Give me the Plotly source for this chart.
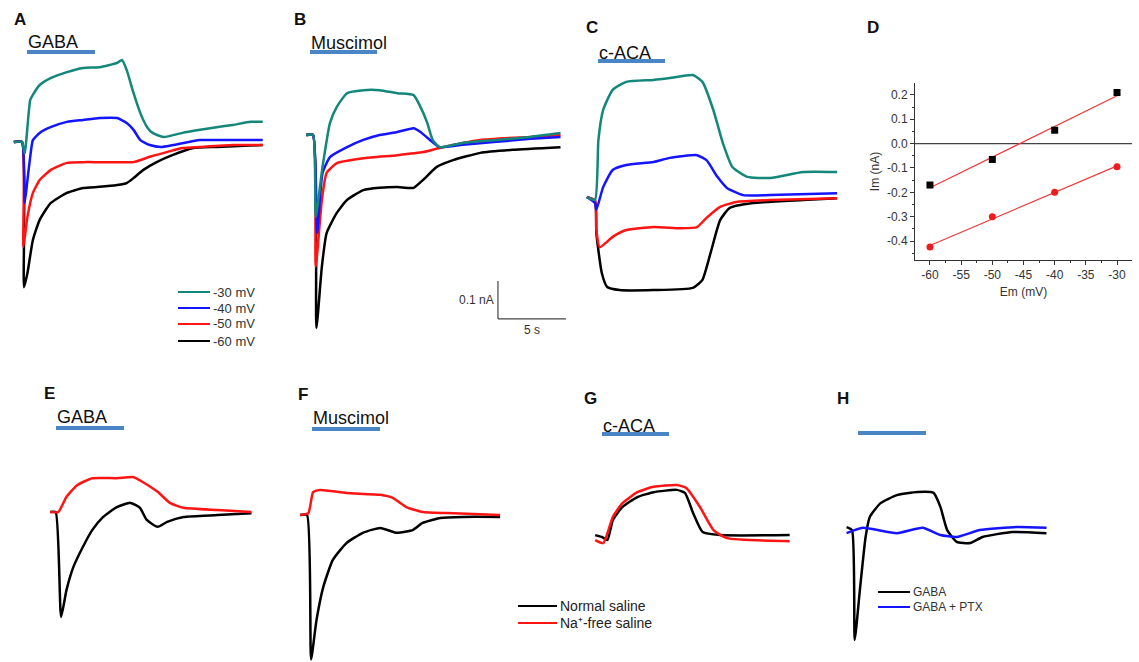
import numpy as np
import plotly.graph_objects as go

W, H = 1139, 662
SX, SY = 13.6, 380.0          # pixels per second, pixels per nA for current traces
FONT = "Arial, Liberation Sans, sans-serif"

TEAL, BLUE, RED, BLACK = "#13877a", "#1414ff", "#ff1414", "#000000"
BAR = "#4a86c6"

# ---------------- A: GABA at four holding potentials ----------------
A30_t = [-0.6, 0.0, 0.2, 0.6, 0.8, 1.3, 2.1, 3.3, 4.5, 5.7, 7.0, 7.35, 7.7, 8.2, 8.7, 9.2, 9.6, 10.4, 11.8, 13.1, 14.3, 15.5, 16.8, 17.7]
A30_i = [0.0, 0.0, -0.03, 0.11, 0.124, 0.15, 0.168, 0.184, 0.195, 0.197, 0.208, 0.216, 0.189, 0.129, 0.076, 0.039, 0.024, 0.013, 0.024, 0.032, 0.039, 0.045, 0.053, 0.053]
A40_t = [-0.6, 0.0, 0.2, 0.4, 0.6, 0.8, 1.3, 2.1, 3.3, 4.5, 5.7, 7.0, 7.7, 8.2, 8.7, 9.4, 10.2, 11.1, 13.1, 15.5, 17.7]
A40_i = [0.0, 0.0, -0.16, -0.1, -0.04, 0.005, 0.024, 0.039, 0.053, 0.058, 0.063, 0.063, 0.05, 0.032, 0.005, -0.008, -0.013, -0.008, 0.005, 0.005, 0.005]
A50_t = [-0.6, 0.0, 0.1, 0.4, 0.8, 1.3, 2.1, 3.3, 4.5, 5.7, 7.0, 8.2, 9.4, 10.7, 11.8, 13.1, 15.5, 17.7]
A50_i = [0.0, 0.0, -0.276, -0.197, -0.134, -0.1, -0.074, -0.055, -0.053, -0.053, -0.053, -0.053, -0.039, -0.026, -0.016, -0.013, -0.008, -0.008]
A60_t = [-0.6, 0.0, 0.15, 0.4, 0.8, 1.3, 2.1, 3.3, 4.5, 5.7, 7.0, 7.7, 8.2, 8.9, 9.9, 11.1, 12.6, 14.3, 17.7]
A60_i = [0.0, 0.0, -0.382, -0.345, -0.258, -0.205, -0.161, -0.134, -0.121, -0.118, -0.113, -0.108, -0.095, -0.074, -0.053, -0.034, -0.016, -0.013, -0.008]

# ---------------- B: muscimol ----------------
B30_t = [-0.5, 0.0, 0.2, 0.7, 1.25, 1.75, 2.5, 3.7, 4.9, 6.2, 7.4, 7.9, 8.4, 8.8, 9.3, 11.0, 13.5, 16.0, 18.2]
B30_i = [0.0, 0.0, -0.216, -0.084, 0.032, 0.074, 0.11, 0.118, 0.118, 0.11, 0.105, 0.074, 0.032, -0.013, -0.032, -0.021, -0.013, -0.005, 0.005]
B40_t = [-0.5, 0.0, 0.3, 0.7, 1.25, 2.5, 3.7, 4.9, 6.2, 7.4, 7.9, 8.6, 9.3, 11.0, 13.5, 16.0, 18.2]
B40_i = [0.0, 0.0, -0.258, -0.1, -0.058, -0.032, -0.013, 0.0, 0.008, 0.018, 0.008, -0.013, -0.032, -0.026, -0.018, -0.01, -0.005]
B50_t = [-0.5, 0.0, 0.2, 0.65, 1.0, 1.75, 3.7, 6.2, 8.1, 9.3, 12.3, 16.0, 18.2]
B50_i = [0.0, 0.0, -0.347, -0.171, -0.1, -0.074, -0.061, -0.053, -0.045, -0.034, -0.013, -0.005, 0.0]
B60_t = [-0.5, 0.0, 0.25, 0.65, 1.0, 1.75, 2.5, 3.7, 4.9, 6.2, 7.4, 8.1, 9.1, 10.3, 12.3, 14.7, 18.2]
B60_i = [0.0, 0.0, -0.508, -0.347, -0.258, -0.205, -0.171, -0.145, -0.139, -0.137, -0.139, -0.118, -0.084, -0.066, -0.047, -0.039, -0.032]

# ---------------- C: c-ACA ----------------
C30_t = [-0.6, 0.0, 0.25, 0.6, 1.3, 2.3, 4.3, 5.5, 7.2, 7.9, 8.7, 9.4, 10.1, 11.2, 12.9, 15.3, 17.8]
C30_i = [0.0, -0.008, 0.15, 0.229, 0.282, 0.303, 0.308, 0.313, 0.321, 0.303, 0.229, 0.142, 0.079, 0.053, 0.05, 0.066, 0.066]
C40_t = [-0.6, 0.0, 0.1, 0.6, 1.3, 2.3, 4.3, 5.5, 7.5, 8.2, 9.0, 9.7, 10.9, 12.9, 17.8]
C40_i = [0.0, -0.016, -0.034, 0.026, 0.071, 0.084, 0.092, 0.103, 0.11, 0.097, 0.053, 0.024, 0.005, 0.005, 0.01]
C50_t = [-0.6, 0.0, 0.1, 0.35, 1.3, 2.3, 4.3, 6.3, 7.5, 8.2, 9.2, 10.4, 12.9, 17.8]
C50_i = [0.0, -0.01, -0.087, -0.132, -0.105, -0.087, -0.079, -0.082, -0.079, -0.055, -0.026, -0.013, -0.008, -0.003]
C60_t = [-0.6, 0.0, 0.1, 0.5, 0.9, 1.8, 4.3, 7.2, 7.9, 8.5, 9.2, 9.9, 11.6, 15.3, 17.8]
C60_i = [0.0, -0.01, -0.095, -0.2, -0.237, -0.245, -0.245, -0.239, -0.218, -0.147, -0.061, -0.029, -0.016, -0.008, -0.003]

# ---------------- D: I-V relation ----------------
D_em = [-60, -50, -40, -30]
D_late = [-0.17, -0.065, 0.055, 0.21]      # squares
D_peak = [-0.425, -0.30, -0.20, -0.095]    # circles

# ---------------- E-G: normal vs Na+-free saline ----------------
E_nrm_t = [-0.5, -0.1, 0.3, 0.7, 1.2, 1.9, 2.6, 3.4, 4.4, 5.4, 6.1, 6.6, 7.4, 8.1, 9.3, 11.8, 14.3]
E_nrm_i = [0.0, 0.0, -0.276, -0.205, -0.145, -0.092, -0.047, -0.013, 0.013, 0.024, 0.011, -0.021, -0.039, -0.026, -0.013, -0.008, -0.003]
E_naf_t = [-0.5, 0.1, 0.7, 1.5, 2.6, 4.4, 5.6, 6.3, 7.4, 8.3, 9.3, 11.8, 14.3]
E_naf_i = [0.0, 0.0, 0.04, 0.071, 0.089, 0.089, 0.092, 0.079, 0.053, 0.024, 0.011, 0.005, 0.0]

F_nrm_t = [-0.5, 0.0, 0.3, 0.7, 1.2, 1.9, 2.9, 4.1, 5.4, 6.6, 7.8, 8.5, 9.8, 11.5, 14.2]
F_nrm_i = [0.0, 0.0, -0.38, -0.276, -0.189, -0.118, -0.074, -0.047, -0.034, -0.047, -0.039, -0.021, -0.008, -0.005, -0.005]
F_naf_t = [-0.5, 0.1, 0.45, 0.95, 2.9, 5.4, 6.3, 7.3, 8.5, 10.3, 14.2]
F_naf_i = [0.0, 0.005, 0.06, 0.066, 0.058, 0.053, 0.045, 0.021, 0.008, 0.005, 0.0]

G_nrm_t = [-0.5, 0.0, 0.4, 0.8, 1.5, 2.6, 3.8, 5.5, 6.1, 6.7, 7.4, 8.7, 13.8]
G_nrm_i = [0.005, 0.0, -0.008, 0.045, 0.079, 0.105, 0.118, 0.124, 0.116, 0.063, 0.013, 0.005, 0.005]
G_naf_t = [-0.5, 0.1, 0.8, 1.5, 2.6, 3.8, 5.5, 6.2, 7.2, 8.2, 9.2, 13.8]
G_naf_i = [-0.008, -0.016, 0.053, 0.089, 0.118, 0.132, 0.137, 0.129, 0.079, 0.018, -0.003, -0.011]

# ---------------- H: GABA with and without picrotoxin ----------------
H_gaba_t = [-0.4, 0.0, 0.2, 0.6, 1.0, 1.3, 2.1, 3.3, 4.8, 6.0, 6.5, 7.0, 7.7, 8.7, 9.6, 11.8, 14.3]
H_gaba_i = [0.013, 0.005, -0.284, -0.145, -0.013, 0.039, 0.076, 0.097, 0.105, 0.103, 0.066, 0.005, -0.026, -0.029, -0.013, 0.0, -0.003]
H_ptx_t = [-0.4, 0.8, 3.3, 5.2, 6.5, 7.7, 9.4, 12.1, 14.3]
H_ptx_i = [-0.003, 0.011, -0.003, 0.011, -0.008, -0.013, 0.005, 0.013, 0.011]


def px(x):
    return x / W


def py(y):
    return 1 - y / H


fig = go.Figure()
layout_axes = {}


def trace_panel(n, box, origin):
    """Hidden axes for a current-trace panel with a shared s / nA scale."""
    l, t, r, b = box
    ox, oy = origin
    s = "" if n == 1 else str(n)
    layout_axes["xaxis" + s] = dict(domain=[l / W, r / W], range=[(l - ox) / SX, (r - ox) / SX],
                                    visible=False, anchor="y" + s, fixedrange=True)
    layout_axes["yaxis" + s] = dict(domain=[1 - b / H, 1 - t / H], range=[(oy - b) / SY, (oy - t) / SY],
                                    visible=False, anchor="x" + s, fixedrange=True)
    return "x" + s, "y" + s


def add_trace(ax, t, i, color, width=2.5):
    fig.add_trace(go.Scatter(x=t, y=i, mode="lines", xaxis=ax[0], yaxis=ax[1],
                             line=dict(color=color, width=width, shape="spline", smoothing=0.5),
                             showlegend=False, hoverinfo="skip"))


axA = trace_panel(1, (5, 45, 285, 300), (22, 142))
axB = trace_panel(2, (290, 45, 580, 345), (313, 135))
axC = trace_panel(3, (575, 60, 855, 300), (595, 197))
axE = trace_panel(5, (35, 440, 285, 640), (57, 512))
axF = trace_panel(6, (285, 440, 540, 662), (307, 515))
axG = trace_panel(7, (575, 450, 820, 570), (602, 537))
axH = trace_panel(8, (835, 440, 1080, 660), (852, 532))

for ax, sets in [(axA, [(A60_t, A60_i, BLACK), (A50_t, A50_i, RED), (A40_t, A40_i, BLUE), (A30_t, A30_i, TEAL)]),
                 (axB, [(B60_t, B60_i, BLACK), (B50_t, B50_i, RED), (B40_t, B40_i, BLUE), (B30_t, B30_i, TEAL)]),
                 (axC, [(C60_t, C60_i, BLACK), (C50_t, C50_i, RED), (C40_t, C40_i, BLUE), (C30_t, C30_i, TEAL)]),
                 (axE, [(E_nrm_t, E_nrm_i, BLACK), (E_naf_t, E_naf_i, RED)]),
                 (axF, [(F_nrm_t, F_nrm_i, BLACK), (F_naf_t, F_naf_i, RED)]),
                 (axG, [(G_nrm_t, G_nrm_i, BLACK), (G_naf_t, G_naf_i, RED)]),
                 (axH, [(H_gaba_t, H_gaba_i, BLACK), (H_ptx_t, H_ptx_i, BLUE)])]:
    for t, i, c in sets:
        add_trace(ax, t, i, c)

# ---- D: I-V plot with linear fits ----
layout_axes["xaxis4"] = dict(domain=[915 / W, 1132 / W], range=[-62.4, -27.6], anchor="y4",
                             tickvals=[-60, -55, -50, -45, -40, -35, -30],
                             ticktext=["-60", "-55", "-50", "-45", "-40", "-35", "-30"],
                             ticks="outside", ticklen=4, tickcolor="#333", showline=True,
                             linecolor="#333", linewidth=1, showgrid=False, zeroline=False,
                             minor=dict(dtick=2.5, ticks="outside", ticklen=2, tickcolor="#333"),
                             tickfont=dict(size=12, color="#333", family=FONT),
                             title=dict(text="Em (mV)", font=dict(size=12, color="#333", family=FONT), standoff=6),
                             fixedrange=True)
layout_axes["yaxis4"] = dict(domain=[1 - 260 / H, 1 - 83 / H], range=[-0.478, 0.249], anchor="x4",
                             tickvals=[-0.4, -0.3, -0.2, -0.1, 0.0, 0.1, 0.2],
                             ticktext=["-0.4", "-0.3", "-0.2", "-0.1", "0.0", "0.1", "0.2"],
                             ticks="outside", ticklen=4, tickcolor="#333", showline=True,
                             linecolor="#333", linewidth=1, showgrid=False, zeroline=False,
                             minor=dict(dtick=0.05, ticks="outside", ticklen=2, tickcolor="#333"),
                             tickfont=dict(size=12, color="#333", family=FONT),
                             title=dict(text="Im (nA)", font=dict(size=12, color="#333", family=FONT), standoff=4),
                             fixedrange=True)

fig.add_trace(go.Scatter(x=[-62.4, -27.6], y=[0, 0], mode="lines", xaxis="x4", yaxis="y4",
                         line=dict(color="#444", width=1.3), showlegend=False, hoverinfo="skip"))
em = np.array(D_em, dtype=float)
for vals in (D_late, D_peak):
    slope, icpt = np.polyfit(em, np.array(vals), 1)
    fig.add_trace(go.Scatter(x=[em[0], em[-1]], y=[slope * em[0] + icpt, slope * em[-1] + icpt],
                             mode="lines", xaxis="x4", yaxis="y4",
                             line=dict(color="#ee3b3b", width=1.2), showlegend=False, hoverinfo="skip"))
fig.add_trace(go.Scatter(x=D_em, y=D_late, mode="markers", xaxis="x4", yaxis="y4",
                         marker=dict(symbol="square", size=7, color="#000"), showlegend=False))
fig.add_trace(go.Scatter(x=D_em, y=D_peak, mode="markers", xaxis="x4", yaxis="y4",
                         marker=dict(symbol="circle", size=7, color="#ee1c1c"), showlegend=False))

shapes = []
annotations = []

# drug application bars and labels
for (x0, x1, y), label, ly in [((27, 95, 52), "GABA", 42), ((310, 377, 52), "Muscimol", 43),
                               ((598, 665, 61), "c-ACA", 53), ((56, 124, 428), "GABA", 417),
                               ((312, 380, 429), "Muscimol", 418), ((602, 669, 434), "c-ACA", 426),
                               ((858, 926, 433), None, None)]:
    shapes.append(dict(type="line", xref="paper", yref="paper", x0=px(x0), x1=px(x1), y0=py(y), y1=py(y),
                       line=dict(color=BAR, width=4)))
    if label:
        annotations.append(dict(text=label, xref="paper", yref="paper", x=px(x0 - 1), y=py(ly),
                                xanchor="left", yanchor="middle", showarrow=False,
                                font=dict(size=18, color="#111", family=FONT)))

# panel letters
for letter, x, y in [("A", 20, 19), ("B", 300, 20), ("C", 592, 27), ("D", 873, 27),
                     ("E", 49, 393), ("F", 303, 394), ("G", 590, 398), ("H", 843, 398)]:
    annotations.append(dict(text="<b>%s</b>" % letter, xref="paper", yref="paper", x=px(x), y=py(y),
                            xanchor="center", yanchor="middle", showarrow=False,
                            font=dict(size=17, color="#111", family=FONT)))

# scale bar (drawn in panel B data units: 0.1 nA, 5 s)
sb_t, sb_i = 13.6, -0.484
shapes.append(dict(type="line", xref="x2", yref="y2", x0=sb_t, x1=sb_t, y0=sb_i, y1=sb_i + 0.1,
                   line=dict(color="#444", width=1.2)))
shapes.append(dict(type="line", xref="x2", yref="y2", x0=sb_t, x1=sb_t + 5, y0=sb_i, y1=sb_i,
                   line=dict(color="#444", width=1.2)))
annotations.append(dict(text="0.1 nA", xref="x2", yref="y2", x=sb_t, y=sb_i + 0.05, xanchor="right",
                        yanchor="middle", xshift=-2, showarrow=False, font=dict(size=12, color="#333", family=FONT)))
annotations.append(dict(text="5 s", xref="x2", yref="y2", x=sb_t + 2.5, y=sb_i, xanchor="center",
                        yanchor="top", yshift=-2, showarrow=False, font=dict(size=12, color="#333", family=FONT)))


def legend_block(x0, x1, ys, items, size, tcolor):
    for y, (text, color) in zip(ys, items):
        shapes.append(dict(type="line", xref="paper", yref="paper", x0=px(x0), x1=px(x1), y0=py(y), y1=py(y),
                           line=dict(color=color, width=2)))
        annotations.append(dict(text=text, xref="paper", yref="paper", x=px(x1 + 1), y=py(y),
                                xanchor="left", yanchor="middle", showarrow=False,
                                font=dict(size=size, color=tcolor, family=FONT)))


legend_block(178, 210, [292, 308, 324, 341],
             [("-30 mV", TEAL), ("-40 mV", BLUE), ("-50 mV", RED), ("-60 mV", BLACK)], 13, "#333")
legend_block(518, 557, [606, 623], [("Normal saline", BLACK), ("Na⁺-free saline", RED)], 14, "#222")
legend_block(878, 910, [592, 607], [("GABA", BLACK), ("GABA + PTX", BLUE)], 12, "#333")

fig.update_layout(width=W, height=H, margin=dict(l=0, r=0, t=0, b=0),
                  paper_bgcolor="white", plot_bgcolor="rgba(0,0,0,0)",
                  showlegend=False, shapes=shapes, annotations=annotations, **layout_axes)

fig.write_html("out.html")
